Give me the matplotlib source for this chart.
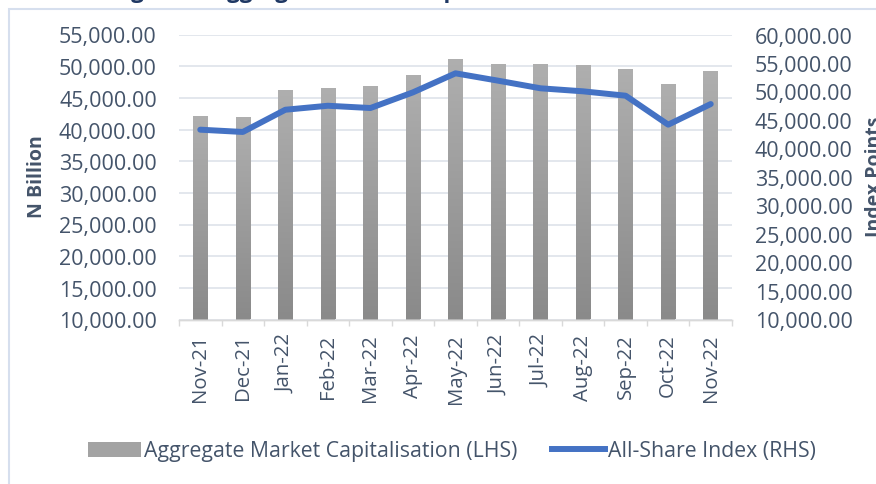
import matplotlib
matplotlib.use("Agg")
import matplotlib.pyplot as plt
import numpy as np
from matplotlib.patches import Rectangle, Patch
from matplotlib.lines import Line2D
from matplotlib.ticker import FuncFormatter, MultipleLocator, FixedLocator
from matplotlib.colors import LinearSegmentedColormap

plt.rcParams['font.family'] = ['Open Sans', 'DejaVu Sans']

months = ["Nov-21", "Dec-21", "Jan-22", "Feb-22", "Mar-22", "Apr-22", "May-22",
          "Jun-22", "Jul-22", "Aug-22", "Sep-22", "Oct-22", "Nov-22"]
market_cap = [42210, 42050, 46160, 46630, 46790, 48530, 51060,
              50270, 50270, 50110, 49480, 47110, 49160]
asi = [43300, 42900, 46800, 47500, 47100, 49850, 53190,
       51900, 50560, 50030, 49260, 44180, 47800]

TXT = '#44546A'
GRID = '#DEE3EA'

fig = plt.figure(figsize=(8.76, 4.85), dpi=100)
ax = fig.add_axes([179/876, 1-320.5/485, 553/876, 285/485])
ax2 = ax.twinx()

x = np.arange(len(months))
bw = 0.34
bars = ax.bar(x, market_cap, width=bw, bottom=0, color='#A0A0A0', zorder=2)
grad = np.linspace(0, 1, 256).reshape(-1, 1)
cmap = LinearSegmentedColormap.from_list('g', ['#8A8A8A', '#AFAFAF'])
for b, v in zip(bars, market_cap):
    x0 = b.get_x()
    im = ax.imshow(grad, extent=[x0, x0 + b.get_width(), 10000, v], origin='lower',
                   aspect='auto', cmap=cmap, zorder=3)
    im.set_clip_path(b)

ax.set_xlim(-0.5, len(months) - 0.5)
ax.set_ylim(10000, 55000)
ax.yaxis.set_major_locator(MultipleLocator(5000))
ax.yaxis.set_major_formatter(FuncFormatter(lambda v, p: f"{v:,.2f}"))
ax.grid(axis='y', color=GRID, linewidth=1.2, zorder=0)
ax.set_axisbelow(True)

ax2.plot(x, asi, color='#4472C4', linewidth=4.3, solid_capstyle='round',
         solid_joinstyle='round', zorder=4)
ax2.set_ylim(10000, 60000)
ax2.yaxis.set_major_locator(MultipleLocator(5000))
ax2.yaxis.set_major_formatter(FuncFormatter(lambda v, p: f"{v:,.2f}"))

for a in (ax, ax2):
    for s in ('top', 'left', 'right'):
        a.spines[s].set_visible(False)
    a.spines['bottom'].set_color('#D9D9D9')
    a.spines['bottom'].set_linewidth(1.0)

ax.tick_params(axis='y', length=0, pad=16, labelsize=15.5, labelcolor=TXT)
ax2.tick_params(axis='y', length=0, pad=16.5, labelsize=15.5, labelcolor=TXT)

ax.set_xticks(x)
ax.set_xticklabels(months, rotation=90, fontsize=14.7, color=TXT)
ax.xaxis.set_minor_locator(FixedLocator(np.arange(-0.5, len(months), 1.0)))
ax.tick_params(axis='x', which='major', length=0, pad=10)
ax.tick_params(axis='x', which='minor', length=4, color='#D9D9D9', width=1.0)

fig.text(37/876, 1-177/485, "N Billion", rotation=90, ha='center', va='center',
         fontsize=14, fontweight='bold', color=TXT)
fig.text(875/876, 1-177/485, "Index Points", rotation=90, ha='center', va='center',
         fontsize=14, fontweight='bold', color=TXT)

fig.text(112/876, 1 + 2/485, "Figure 1: Aggregate Market Capitalisation and All-Share Index",
         ha='left', va='baseline', fontsize=16, fontweight='bold', color='#1F3864')

fig.patches.append(Rectangle((9/876, -0.1), 1.2, 1 - 10/485 + 0.1, transform=fig.transFigure,
                             fill=False, edgecolor='#D6DFEE', linewidth=1.5))

handles = [Patch(facecolor='#A3A3A3', edgecolor='none'),
           Line2D([0], [0], color='#4472C4', linewidth=4.3)]
labels = ["Aggregate Market Capitalisation (LHS)", "All-Share Index (RHS)"]
fig.legend(handles, labels, loc='center', bbox_to_anchor=(452/876, 1-452/485), ncol=2,
           frameon=False, fontsize=15.3, labelcolor=TXT, handlelength=2.5,
           handletextpad=0.15, columnspacing=1.6, handleheight=0.7)

fig.savefig("out.png", dpi=100)
